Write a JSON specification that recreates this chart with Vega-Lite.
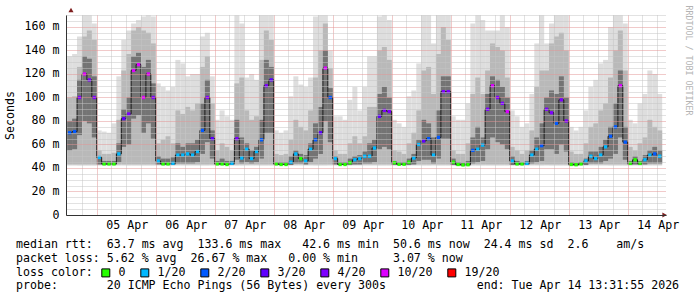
{
  "$schema": "https://vega.github.io/schema/vega-lite/v6.json",
  "width": 600,
  "height": 200,
  "autosize": {"type": "none"},
  "padding": {"left": 66, "top": 15, "right": 31, "bottom": 82},
  "background": "white",
  "config": {"view": {"stroke": null}, "font": "DejaVu Sans Mono"},
  "title": {
    "text": [
      "median rtt:\u00a0\u00a063.7 ms avg\u00a0\u00a0133.6 ms max\u00a0\u00a0\u00a042.6 ms min\u00a0\u00a050.6 ms now\u00a0\u00a024.4 ms sd\u00a0\u00a02.6\u00a0\u00a0\u00a0\u00a0am/s",
      "packet loss: 5.62 % avg\u00a0\u00a026.67 % max\u00a0\u00a0\u00a00.00 % min\u00a0\u00a0\u00a0\u00a0\u00a03.07 % now"
    ],
    "subtitle": "probe:\u00a0\u00a0\u00a0\u00a0\u00a0\u00a0\u00a020 ICMP Echo Pings (56 Bytes) every 300s\u00a0\u00a0\u00a0\u00a0\u00a0\u00a0\u00a0\u00a0\u00a0\u00a0\u00a0\u00a0\u00a0end: Tue Apr 14 13:31:55 2026",
    "orient": "bottom",
    "anchor": "start",
    "frame": "group",
    "align": "left",
    "dx": -50,
    "offset": -40,
    "font": "DejaVu Sans Mono",
    "fontSize": 11.6,
    "fontWeight": "normal",
    "color": "black",
    "lineHeight": 14,
    "subtitleFont": "DejaVu Sans Mono",
    "subtitleFontSize": 11.6,
    "subtitleColor": "black",
    "subtitleFontWeight": "normal",
    "subtitlePadding": 15
  },
  "data": {"values": [
    {"t":"2026-04-04T13:00","m":70,"l":2,"a":135,"b":100,"c":80,"e":55},
    {"t":"2026-04-04T15:00","m":71,"l":2,"a":137,"b":101,"c":82,"e":56},
    {"t":"2026-04-04T17:00","m":100,"l":4,"a":152,"b":126,"c":115,"e":68},
    {"t":"2026-04-04T19:00","m":120,"l":10,"a":170,"b":152,"c":135,"e":80},
    {"t":"2026-04-04T21:00","m":115,"l":4,"a":170,"b":157,"c":133,"e":78},
    {"t":"2026-04-04T23:00","m":100,"l":4,"a":163,"b":149,"c":118,"e":66},
    {"t":"2026-04-05T01:00","m":49,"l":1,"a":72,"b":55,"c":50,"e":43},
    {"t":"2026-04-05T03:00","m":43.5,"l":0,"a":71,"b":52,"c":46,"e":42.5},
    {"t":"2026-04-05T05:00","m":43.5,"l":0,"a":70,"b":52,"c":46,"e":42.5},
    {"t":"2026-04-05T07:00","m":43.5,"l":0,"a":78,"b":53,"c":46,"e":42.5},
    {"t":"2026-04-05T09:00","m":52,"l":1,"a":118,"b":81,"c":61,"e":45},
    {"t":"2026-04-05T11:00","m":82,"l":3,"a":149,"b":123,"c":90,"e":58},
    {"t":"2026-04-05T13:00","m":86,"l":4,"a":157,"b":137,"c":100,"e":60},
    {"t":"2026-04-05T15:00","m":123,"l":10,"a":163,"b":157,"c":135,"e":82},
    {"t":"2026-04-05T17:00","m":128,"l":10,"a":166,"b":160,"c":138,"e":85},
    {"t":"2026-04-05T19:00","m":100,"l":10,"a":169,"b":157,"c":126,"e":70},
    {"t":"2026-04-05T21:00","m":120,"l":10,"a":170,"b":155,"c":132,"e":78},
    {"t":"2026-04-05T23:00","m":100,"l":4,"a":169,"b":146,"c":112,"e":65},
    {"t":"2026-04-06T01:00","m":46,"l":1,"a":112,"b":61,"c":50,"e":43},
    {"t":"2026-04-06T03:00","m":43.5,"l":0,"a":109,"b":64,"c":48,"e":42.5},
    {"t":"2026-04-06T05:00","m":43.5,"l":0,"a":106,"b":67,"c":48,"e":42.5},
    {"t":"2026-04-06T07:00","m":44,"l":1,"a":109,"b":61,"c":49,"e":42.5},
    {"t":"2026-04-06T09:00","m":51,"l":1,"a":132,"b":89,"c":61,"e":44},
    {"t":"2026-04-06T11:00","m":51,"l":1,"a":129,"b":86,"c":58,"e":44},
    {"t":"2026-04-06T13:00","m":52,"l":1,"a":118,"b":92,"c":61,"e":44},
    {"t":"2026-04-06T15:00","m":51,"l":1,"a":120,"b":89,"c":61,"e":44},
    {"t":"2026-04-06T17:00","m":54,"l":1,"a":120,"b":95,"c":64,"e":45},
    {"t":"2026-04-06T19:00","m":72,"l":2,"a":152,"b":126,"c":95,"e":52},
    {"t":"2026-04-06T21:00","m":100,"l":4,"a":155,"b":135,"c":115,"e":62},
    {"t":"2026-04-06T23:00","m":65,"l":3,"a":118,"b":95,"c":72,"e":48},
    {"t":"2026-04-07T01:00","m":43.5,"l":0,"a":81,"b":55,"c":46,"e":42.5},
    {"t":"2026-04-07T03:00","m":43.5,"l":0,"a":89,"b":61,"c":48,"e":42.5},
    {"t":"2026-04-07T05:00","m":43,"l":0,"a":84,"b":58,"c":46,"e":42.5},
    {"t":"2026-04-07T07:00","m":44,"l":1,"a":81,"b":55,"c":46,"e":42.5},
    {"t":"2026-04-07T09:00","m":65,"l":4,"a":170,"b":112,"c":81,"e":47},
    {"t":"2026-04-07T11:00","m":48.5,"l":1,"a":163,"b":117,"c":66,"e":44},
    {"t":"2026-04-07T13:00","m":56,"l":1,"a":117,"b":89,"c":61,"e":45},
    {"t":"2026-04-07T15:00","m":48,"l":1,"a":120,"b":81,"c":55,"e":44},
    {"t":"2026-04-07T17:00","m":54,"l":1,"a":115,"b":84,"c":58,"e":45},
    {"t":"2026-04-07T19:00","m":64,"l":2,"a":170,"b":132,"c":81,"e":48},
    {"t":"2026-04-07T21:00","m":110,"l":4,"a":170,"b":157,"c":132,"e":70},
    {"t":"2026-04-07T23:00","m":115,"l":3,"a":170,"b":149,"c":126,"e":70},
    {"t":"2026-04-08T01:00","m":43.5,"l":0,"a":72,"b":52,"c":45,"e":42.5},
    {"t":"2026-04-08T03:00","m":43,"l":0,"a":70,"b":51,"c":45,"e":42.5},
    {"t":"2026-04-08T05:00","m":43,"l":0,"a":72,"b":52,"c":45,"e":42.5},
    {"t":"2026-04-08T07:00","m":45,"l":1,"a":101,"b":64,"c":50,"e":42.5},
    {"t":"2026-04-08T09:00","m":52,"l":1,"a":118,"b":81,"c":55,"e":44},
    {"t":"2026-04-08T11:00","m":48,"l":0,"a":111,"b":75,"c":52,"e":44},
    {"t":"2026-04-08T13:00","m":46,"l":1,"a":109,"b":72,"c":51,"e":43},
    {"t":"2026-04-08T15:00","m":56,"l":1,"a":117,"b":89,"c":61,"e":45},
    {"t":"2026-04-08T17:00","m":64,"l":2,"a":169,"b":117,"c":78,"e":48},
    {"t":"2026-04-08T19:00","m":70,"l":3,"a":170,"b":140,"c":92,"e":52},
    {"t":"2026-04-08T21:00","m":125,"l":10,"a":170,"b":163,"c":140,"e":80},
    {"t":"2026-04-08T23:00","m":100,"l":2,"a":140,"b":125,"c":108,"e":62},
    {"t":"2026-04-09T01:00","m":48,"l":1,"a":84,"b":55,"c":50,"e":43},
    {"t":"2026-04-09T03:00","m":43,"l":0,"a":84,"b":52,"c":45,"e":42.5},
    {"t":"2026-04-09T05:00","m":43,"l":0,"a":81,"b":52,"c":45,"e":42.5},
    {"t":"2026-04-09T07:00","m":44.5,"l":0,"a":98,"b":61,"c":48,"e":42.5},
    {"t":"2026-04-09T09:00","m":47,"l":1,"a":109,"b":67,"c":50,"e":43},
    {"t":"2026-04-09T11:00","m":48,"l":1,"a":89,"b":61,"c":51,"e":43},
    {"t":"2026-04-09T13:00","m":50,"l":1,"a":109,"b":67,"c":54,"e":44},
    {"t":"2026-04-09T15:00","m":50,"l":1,"a":135,"b":92,"c":61,"e":44},
    {"t":"2026-04-09T17:00","m":57,"l":1,"a":135,"b":92,"c":64,"e":45},
    {"t":"2026-04-09T19:00","m":84,"l":3,"a":169,"b":140,"c":103,"e":56},
    {"t":"2026-04-09T21:00","m":89,"l":4,"a":170,"b":143,"c":109,"e":58},
    {"t":"2026-04-09T23:00","m":88,"l":4,"a":166,"b":132,"c":100,"e":56},
    {"t":"2026-04-10T01:00","m":44.5,"l":0,"a":81,"b":55,"c":46,"e":42.5},
    {"t":"2026-04-10T03:00","m":43.2,"l":0,"a":78,"b":54,"c":45,"e":42.5},
    {"t":"2026-04-10T05:00","m":43.2,"l":0,"a":75,"b":52,"c":45,"e":42.5},
    {"t":"2026-04-10T07:00","m":45,"l":0,"a":101,"b":61,"c":48,"e":42.5},
    {"t":"2026-04-10T09:00","m":48.5,"l":1,"a":106,"b":70,"c":52,"e":43},
    {"t":"2026-04-10T11:00","m":60,"l":1,"a":129,"b":89,"c":64,"e":46},
    {"t":"2026-04-10T13:00","m":63,"l":3,"a":170,"b":123,"c":81,"e":47},
    {"t":"2026-04-10T15:00","m":65,"l":2,"a":170,"b":126,"c":78,"e":47},
    {"t":"2026-04-10T17:00","m":51,"l":1,"a":146,"b":103,"c":66,"e":44},
    {"t":"2026-04-10T19:00","m":66,"l":2,"a":170,"b":137,"c":89,"e":48},
    {"t":"2026-04-10T21:00","m":105,"l":4,"a":170,"b":160,"c":118,"e":65},
    {"t":"2026-04-10T23:00","m":105,"l":4,"a":170,"b":149,"c":118,"e":65},
    {"t":"2026-04-11T01:00","m":45,"l":0,"a":84,"b":55,"c":48,"e":42.5},
    {"t":"2026-04-11T03:00","m":43,"l":0,"a":81,"b":52,"c":45,"e":42},
    {"t":"2026-04-11T05:00","m":42.6,"l":0,"a":81,"b":52,"c":44.5,"e":42},
    {"t":"2026-04-11T07:00","m":42.8,"l":0,"a":95,"b":61,"c":46,"e":42},
    {"t":"2026-04-11T09:00","m":55,"l":2,"a":163,"b":103,"c":66,"e":44},
    {"t":"2026-04-11T11:00","m":56,"l":1,"a":170,"b":117,"c":75,"e":45},
    {"t":"2026-04-11T13:00","m":59.5,"l":1,"a":166,"b":103,"c":66,"e":46},
    {"t":"2026-04-11T15:00","m":90,"l":4,"a":157,"b":123,"c":103,"e":56},
    {"t":"2026-04-11T17:00","m":110,"l":10,"a":157,"b":146,"c":118,"e":66},
    {"t":"2026-04-11T19:00","m":100,"l":4,"a":157,"b":143,"c":115,"e":62},
    {"t":"2026-04-11T21:00","m":95,"l":4,"a":170,"b":140,"c":109,"e":60},
    {"t":"2026-04-11T23:00","m":88,"l":10,"a":160,"b":117,"c":100,"e":56},
    {"t":"2026-04-12T01:00","m":46,"l":1,"a":89,"b":58,"c":50,"e":42.5},
    {"t":"2026-04-12T03:00","m":43.5,"l":0,"a":84,"b":55,"c":46,"e":42.5},
    {"t":"2026-04-12T05:00","m":43.5,"l":0,"a":75,"b":52,"c":45,"e":42.5},
    {"t":"2026-04-12T07:00","m":44,"l":1,"a":78,"b":55,"c":46,"e":42.5},
    {"t":"2026-04-12T09:00","m":51,"l":1,"a":103,"b":72,"c":55,"e":44},
    {"t":"2026-04-12T11:00","m":56,"l":1,"a":146,"b":109,"c":66,"e":45},
    {"t":"2026-04-12T13:00","m":59,"l":2,"a":170,"b":123,"c":78,"e":46},
    {"t":"2026-04-12T15:00","m":90,"l":4,"a":146,"b":123,"c":100,"e":56},
    {"t":"2026-04-12T17:00","m":87,"l":4,"a":163,"b":146,"c":106,"e":56},
    {"t":"2026-04-12T19:00","m":78,"l":2,"a":170,"b":152,"c":103,"e":52},
    {"t":"2026-04-12T21:00","m":98,"l":4,"a":170,"b":155,"c":118,"e":60},
    {"t":"2026-04-12T23:00","m":80,"l":4,"a":170,"b":140,"c":100,"e":54},
    {"t":"2026-04-13T01:00","m":43,"l":0,"a":75,"b":54,"c":45,"e":42},
    {"t":"2026-04-13T03:00","m":42.8,"l":0,"a":72,"b":52,"c":44.5,"e":42},
    {"t":"2026-04-13T05:00","m":43.5,"l":0,"a":75,"b":52,"c":45,"e":42.5},
    {"t":"2026-04-13T07:00","m":46,"l":1,"a":89,"b":61,"c":48,"e":42.5},
    {"t":"2026-04-13T09:00","m":50,"l":1,"a":109,"b":75,"c":54,"e":44},
    {"t":"2026-04-13T11:00","m":48,"l":1,"a":115,"b":78,"c":54,"e":44},
    {"t":"2026-04-13T13:00","m":51,"l":1,"a":129,"b":89,"c":58,"e":44},
    {"t":"2026-04-13T15:00","m":58,"l":1,"a":132,"b":95,"c":64,"e":46},
    {"t":"2026-04-13T17:00","m":67,"l":2,"a":160,"b":117,"c":75,"e":48},
    {"t":"2026-04-13T19:00","m":75,"l":2,"a":170,"b":140,"c":95,"e":52},
    {"t":"2026-04-13T21:00","m":110,"l":10,"a":170,"b":157,"c":123,"e":66},
    {"t":"2026-04-13T23:00","m":62,"l":2,"a":163,"b":123,"c":75,"e":47},
    {"t":"2026-04-14T01:00","m":44,"l":0,"a":81,"b":58,"c":46,"e":42.5},
    {"t":"2026-04-14T03:00","m":47,"l":0,"a":78,"b":55,"c":50,"e":43},
    {"t":"2026-04-14T05:00","m":44,"l":0,"a":95,"b":61,"c":46,"e":42.5},
    {"t":"2026-04-14T07:00","m":47,"l":1,"a":103,"b":66,"c":51,"e":43},
    {"t":"2026-04-14T09:00","m":51,"l":1,"a":123,"b":81,"c":55,"e":44},
    {"t":"2026-04-14T11:00","m":52,"l":2,"a":120,"b":75,"c":58,"e":44},
    {"t":"2026-04-14T13:00","m":50,"l":1,"a":103,"b":72,"c":55,"e":44}
  ]},
  "resolve": {"axis": {"x": "independent", "y": "independent"}},
  "layer": [
    {
      "mark": {"type": "bar", "color": "#dedede", "width": 5, "clip": true},
      "encoding": {
        "x": {"field": "t", "type": "temporal",
          "scale": {"domain": [{"year": 2026, "month": 4, "date": 4, "hours": 13, "minutes": 31, "seconds": 55}, {"year": 2026, "month": 4, "date": 14, "hours": 13, "minutes": 31, "seconds": 55}], "nice": false},
          "axis": {"orient": "bottom", "values": [
            {"year":2026,"month":4,"date":4,"hours":18},
            {"year":2026,"month":4,"date":5,"hours":6},{"year":2026,"month":4,"date":5,"hours":12},{"year":2026,"month":4,"date":5,"hours":18},
            {"year":2026,"month":4,"date":6,"hours":6},{"year":2026,"month":4,"date":6,"hours":12},{"year":2026,"month":4,"date":6,"hours":18},
            {"year":2026,"month":4,"date":7,"hours":6},{"year":2026,"month":4,"date":7,"hours":12},{"year":2026,"month":4,"date":7,"hours":18},
            {"year":2026,"month":4,"date":8,"hours":6},{"year":2026,"month":4,"date":8,"hours":12},{"year":2026,"month":4,"date":8,"hours":18},
            {"year":2026,"month":4,"date":9,"hours":6},{"year":2026,"month":4,"date":9,"hours":12},{"year":2026,"month":4,"date":9,"hours":18},
            {"year":2026,"month":4,"date":10,"hours":6},{"year":2026,"month":4,"date":10,"hours":12},{"year":2026,"month":4,"date":10,"hours":18},
            {"year":2026,"month":4,"date":11,"hours":6},{"year":2026,"month":4,"date":11,"hours":12},{"year":2026,"month":4,"date":11,"hours":18},
            {"year":2026,"month":4,"date":12,"hours":6},{"year":2026,"month":4,"date":12,"hours":12},{"year":2026,"month":4,"date":12,"hours":18},
            {"year":2026,"month":4,"date":13,"hours":6},{"year":2026,"month":4,"date":13,"hours":12},{"year":2026,"month":4,"date":13,"hours":18},
            {"year":2026,"month":4,"date":14,"hours":6},{"year":2026,"month":4,"date":14,"hours":12}
          ], "grid": true, "gridColor": "#c4c4c4", "gridDash": [1, 1], "gridWidth": 1, "labels": false, "ticks": false, "domain": false, "title": null, "zindex": 1}},
        "y": {"field": "a", "type": "quantitative", "scale": {"domain": [0, 170.2], "nice": false},
          "axis": {"orient": "left", "values": [5,10,15,25,30,35,45,50,55,65,70,75,85,90,95,105,110,115,125,130,135,145,150,155,165,170], "grid": true, "gridColor": "#c4c4c4", "gridDash": [1, 1], "gridWidth": 1, "labels": false, "ticks": false, "domain": false, "title": null, "zindex": 1}},
        "y2": {"datum": 42}
      }
    },
    {
      "mark": {"type": "bar", "color": "#b9b9b9", "width": 5, "clip": true},
      "encoding": {
        "x": {"field": "t", "type": "temporal",
          "axis": {"orient": "bottom", "values": [
            {"year":2026,"month":4,"date":5},{"year":2026,"month":4,"date":6},{"year":2026,"month":4,"date":7},{"year":2026,"month":4,"date":8},{"year":2026,"month":4,"date":9},
            {"year":2026,"month":4,"date":10},{"year":2026,"month":4,"date":11},{"year":2026,"month":4,"date":12},{"year":2026,"month":4,"date":13},{"year":2026,"month":4,"date":14}
          ], "grid": true, "gridColor": "#e39494", "gridDash": [1, 1], "gridWidth": 1, "format": "%d %b", "labelOffset": 30, "labelFlush": false, "labelOverlap": false, "labelFont": "DejaVu Sans Mono", "labelFontSize": 11.6, "labelColor": "black", "labelPadding": 4, "ticks": false, "domain": true, "domainColor": "#333333", "title": null, "zindex": 1}},
        "y": {"field": "b", "type": "quantitative",
          "axis": {"orient": "left", "values": [0,20,40,60,80,100,120,140,160], "grid": true, "gridColor": "#e39494", "gridDash": [1, 1], "gridWidth": 1, "labelExpr": "datum.value == 0 ? '0' : datum.value + ' m'", "labelFont": "DejaVu Sans Mono", "labelFontSize": 11.6, "labelColor": "black", "labelPadding": 7, "ticks": false, "domain": true, "domainColor": "#333333", "title": "Seconds", "titleFont": "DejaVu Sans Mono", "titleFontSize": 11.6, "titleFontWeight": "normal", "titleColor": "black", "titlePadding": 9, "zindex": 1}},
        "y2": {"datum": 43}
      }
    },
    {
      "mark": {"type": "bar", "color": "#747474", "width": 5, "clip": true},
      "encoding": {
        "x": {"field": "t", "type": "temporal", "axis": null},
        "y": {"field": "c", "type": "quantitative",
          "axis": {"orient": "right", "labels": false, "ticks": false, "domain": false, "grid": false, "title": "RRDTOOL / TOBI OETIKER", "titleFont": "DejaVu Sans Mono", "titleFontSize": 8.3, "titleFontWeight": "normal", "titleColor": "#b4b4b4", "titleAngle": 90, "titleAnchor": "end", "titleAlign": "left", "titleY": -10, "titlePadding": 17}},
        "y2": {"field": "e"}
      }
    },
    {
      "mark": {"type": "line", "interpolate": "step", "color": "#1a1a1a", "strokeWidth": 1, "clip": true},
      "encoding": {
        "x": {"field": "t", "type": "temporal", "axis": null},
        "y": {"field": "m", "type": "quantitative", "axis": null}
      }
    },
    {
      "mark": {"type": "point", "shape": "square", "filled": true, "size": 11, "opacity": 1, "clip": true},
      "encoding": {
        "x": {"field": "t", "type": "temporal", "axis": null},
        "y": {"field": "m", "type": "quantitative", "axis": null},
        "color": {"field": "l", "type": "ordinal",
          "scale": {"domain": [0, 1, 2, 3, 4, 10, 19], "range": ["#26ff00", "#00b8ff", "#0059ff", "#5e00ff", "#7e00ff", "#dd00ff", "#ff0000"]},
          "legend": {"orient": "none", "legendX": -50, "legendY": 252, "direction": "horizontal", "title": "loss color:", "titleOrient": "left", "titleFont": "DejaVu Sans Mono", "titleFontSize": 11.6, "titleFontWeight": "normal", "titleColor": "black", "titlePadding": 7, "labelFont": "DejaVu Sans Mono", "labelFontSize": 11.6, "labelColor": "black", "labelOffset": 7, "columnPadding": 12, "symbolType": "square", "symbolSize": 64, "symbolStrokeColor": "black", "symbolStrokeWidth": 1, "symbolOpacity": 1, "labelExpr": "datum.value == 0 ? '0' : datum.value + '/20'"}
        }
      }
    },
    {
      "data": {"values": [{}]},
      "mark": {"type": "point", "shape": "triangle-right", "filled": true, "size": 26, "color": "#7f1f1f", "opacity": 1, "clip": false},
      "encoding": {
        "x": {"datum": {"year": 2026, "month": 4, "date": 14, "hours": 15, "minutes": 0}, "type": "temporal", "axis": null},
        "y": {"datum": 0, "type": "quantitative", "axis": null}
      }
    },
    {
      "data": {"values": [{}]},
      "mark": {"type": "point", "shape": "triangle-up", "filled": true, "size": 26, "color": "#7f1f1f", "opacity": 1, "clip": false},
      "encoding": {
        "x": {"datum": {"year": 2026, "month": 4, "date": 4, "hours": 13, "minutes": 31, "seconds": 55}, "type": "temporal", "axis": null},
        "y": {"datum": 174.5, "type": "quantitative", "axis": null}
      }
    }
  ]
}
